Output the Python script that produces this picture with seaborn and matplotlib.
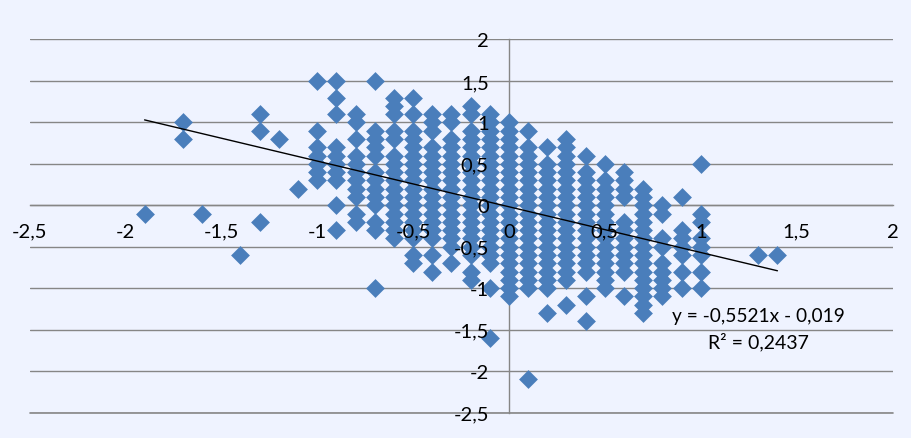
import pandas as pd
import matplotlib
matplotlib.use("Agg")
import matplotlib.pyplot as plt
import seaborn as sns

# columns of the scatter, y values
x_outer = [-1.9, -1.7, -1.7, -1.6, -1.4, -1.3, -1.3, -1.3, -1.2, -1.1, 1.3, 1.4]
y_outer = [-0.1, 1.0, 0.8, -0.1, -0.6, 1.1, 0.9, -0.2, 0.8, 0.2, -0.6, -0.6]

y_m10 = [1.5, 0.9, 0.7, 0.6, 0.5, 0.4, 0.3]
y_m09 = [1.5, 1.3, 1.1, 0.7, 0.6, 0.5, 0.4, 0.3, 0.0, -0.3]
y_m08 = [1.1, 1.0, 0.8, 0.6, 0.5, 0.4, 0.3, 0.2, 0.1, -0.1, -0.2]
y_m07 = [1.5, 0.9, 0.8, 0.7, 0.6, 0.4, 0.3, 0.2, 0.1, 0.0, -0.2, -0.3, -1.0]
y_m06 = [1.3, 1.2, 1.1, 0.9, 0.8, 0.6, 0.5, 0.4, 0.3, 0.2, 0.1, 0.0, -0.1, -0.2, -0.3, -0.4]
y_m05 = [1.3, 1.1, 0.9, 0.8, 0.7, 0.6, 0.5, 0.4, 0.3, 0.2, 0.1, 0.0, -0.1, -0.2, -0.3, -0.4, -0.6, -0.7]
y_m04 = [1.1, 1.0, 0.9, 0.7, 0.6, 0.5, 0.4, 0.3, 0.2, 0.1, 0.0, -0.1, -0.2, -0.3, -0.4, -0.6, -0.8]
y_m03 = [1.1, 1.0, 0.8, 0.7, 0.6, 0.5, 0.4, 0.3, 0.2, 0.1, 0.0, -0.1, -0.2, -0.3, -0.4, -0.5, -0.7]
y_m02 = [1.2, 1.1, 0.9, 0.8, 0.7, 0.6, 0.5, 0.4, 0.3, 0.2, 0.1, 0.0, -0.1, -0.2, -0.3, -0.4, -0.5, -0.6, -0.8, -0.9]
y_m01 = [1.1, 1.0, 0.9, 0.8, 0.7, 0.6, 0.5, 0.4, 0.3, 0.2, 0.1, 0.0, -0.1, -0.2, -0.3, -0.4, -0.5, -0.6, -0.7, -1.0, -1.6]
y_p00 = [1.0, 0.9, 0.8, 0.7, 0.6, 0.5, 0.4, 0.3, 0.2, 0.1, 0.0, -0.1, -0.2, -0.3, -0.4, -0.5, -0.6, -0.7, -0.8, -0.9, -1.0, -1.1]
y_p01 = [0.9, 0.7, 0.6, 0.5, 0.4, 0.3, 0.2, 0.1, 0.0, -0.1, -0.2, -0.3, -0.4, -0.5, -0.6, -0.7, -0.8, -0.9, -1.0, -2.1]
y_p02 = [0.7, 0.5, 0.4, 0.3, 0.2, 0.1, 0.0, -0.1, -0.2, -0.3, -0.4, -0.5, -0.6, -0.7, -0.8, -0.9, -1.0, -1.3]
y_p03 = [0.8, 0.7, 0.6, 0.5, 0.4, 0.3, 0.2, 0.1, 0.0, -0.1, -0.2, -0.3, -0.4, -0.5, -0.6, -0.7, -0.8, -0.9, -1.2]
y_p04 = [0.6, 0.4, 0.3, 0.2, 0.1, 0.0, -0.1, -0.2, -0.3, -0.4, -0.5, -0.6, -0.7, -0.8, -1.1, -1.4]
y_p05 = [0.5, 0.3, 0.2, 0.1, 0.0, -0.1, -0.2, -0.3, -0.4, -0.5, -0.6, -0.7, -0.8, -0.9, -1.0]
y_p06 = [0.4, 0.3, 0.2, 0.1, -0.2, -0.3, -0.4, -0.5, -0.6, -0.7, -0.8, -1.1]
y_p07 = [0.2, 0.1, 0.0, -0.1, -0.2, -0.3, -0.4, -0.5, -0.6, -0.7, -0.8, -0.9, -1.0, -1.1, -1.2, -1.3]
y_p08 = [0.0, -0.1, -0.4, -0.5, -0.7, -0.8, -0.9, -1.0, -1.1]
y_p09 = [0.1, -0.3, -0.4, -0.5, -0.6, -0.8, -1.0]
y_p10 = [0.5, -0.1, -0.2, -0.4, -0.5, -0.6, -0.8, -1.0]

grid_x = [-1.0, -0.9, -0.8, -0.7, -0.6, -0.5, -0.4, -0.3, -0.2, -0.1, 0.0,
          0.1, 0.2, 0.3, 0.4, 0.5, 0.6, 0.7, 0.8, 0.9, 1.0]
grid_y = [y_m10, y_m09, y_m08, y_m07, y_m06, y_m05, y_m04, y_m03, y_m02, y_m01, y_p00,
          y_p01, y_p02, y_p03, y_p04, y_p05, y_p06, y_p07, y_p08, y_p09, y_p10]

# trendline end points
trend_x = [-1.9, 1.4]
trend_y = [1.03, -0.79]

x_ticks = [-2.5, -2, -1.5, -1, -0.5, 0, 0.5, 1, 1.5, 2]
x_labels = ["-2,5", "-2", "-1,5", "-1", "-0,5", "0", "0,5", "1", "1,5", "2"]
y_ticks = [-2.5, -2, -1.5, -1, -0.5, 0, 0.5, 1, 1.5, 2]
y_labels = ["-2,5", "-2", "-1,5", "-1", "-0,5", "0", "0,5", "1", "1,5", "2"]

rows = list(zip(x_outer, y_outer))
for x, ys in zip(grid_x, grid_y):
    rows += [(x, y) for y in ys]
df = pd.DataFrame(rows, columns=["x", "y"])

sns.set_theme(style="white")
plt.rcParams["font.family"] = ["Lato", "DejaVu Sans"]

bg = "#EFF3FF"
line_grey = "#868686"
fig = plt.figure(figsize=(9.11, 4.39), dpi=100, facecolor=bg)
# box is a touch taller than the -2,5..2 range so the outer gridlines are not clipped
box = [29.5 / 911, 1 - 414.33 / 439, 863 / 911, 374.66 / 439]
ax = fig.add_axes(box, facecolor=bg)

sns.scatterplot(data=df, x="x", y="y", marker="D", s=92, color="#4A7EBB", linewidth=0,
                ax=ax, zorder=3, clip_on=False)
sns.lineplot(x=trend_x, y=trend_y, color="black", linewidth=1, ax=ax, zorder=4)

ax.set_xlim(-2.5, 2)
ax.set_ylim(-2.51, 2.01)
ax.set_xlabel("")
ax.set_ylabel("")
ax.set_xticks(x_ticks)
ax.set_yticks(y_ticks)
ax.grid(axis="y", color=line_grey, linewidth=1)
ax.grid(axis="x", visible=False)
ax.set_axisbelow(True)
# bottom gridline came out faint, draw it again
ax.axhline(y_ticks[0], color=line_grey, linewidth=1.2, zorder=1, clip_on=False)

for side in ["top", "right"]:
    ax.spines[side].set_visible(False)
for side in ["left", "bottom"]:
    ax.spines[side].set_position("zero")
    ax.spines[side].set_color(line_grey)
    ax.spines[side].set_linewidth(1)
    ax.spines[side].set_zorder(1)
ax.spines["left"].set_bounds(-2.5, 2)

ax.tick_params(axis="x", length=4.5, width=1, color=line_grey, labelbottom=False)
ax.tick_params(axis="y", length=0, labelleft=False)

# tick labels sit over the markers, so they get their own clear axes on top
top = fig.add_axes(box, facecolor="none")
top.set_xlim(-2.5, 2)
top.set_ylim(-2.51, 2.01)
top.set_xticks(x_ticks, x_labels)
top.set_yticks(y_ticks, y_labels)
for side in ["top", "right", "left", "bottom"]:
    top.spines[side].set_visible(False)
top.spines["left"].set_position("zero")
top.spines["bottom"].set_position("zero")
top.tick_params(axis="x", length=0, labelsize=14.5, pad=12.5, labelcolor="black")
top.tick_params(axis="y", length=0, labelsize=14.5, pad=14.5, labelcolor="black")

top.text(758 / 911, 1 - 317 / 439, "y = -0,5521x - 0,019", transform=fig.transFigure,
         ha="center", va="center", fontsize=13.8, color="black")
top.text(758 / 911, 1 - 342 / 439, "R² = 0,2437", transform=fig.transFigure,
         ha="center", va="center", fontsize=14, color="black")

plt.savefig("out.png", dpi=100, facecolor=bg)
